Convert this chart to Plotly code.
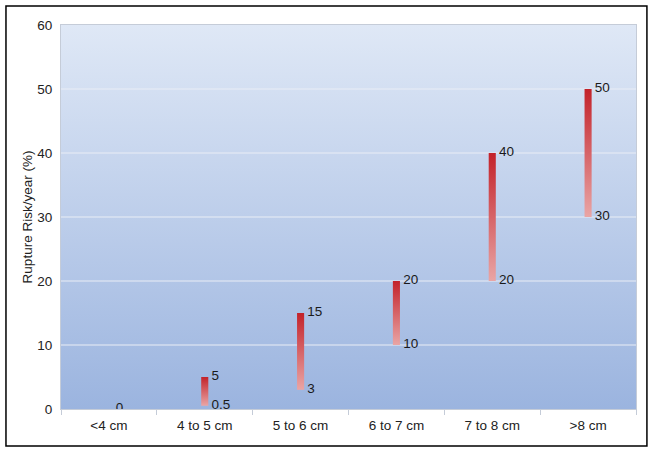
import plotly.graph_objects as go

categories = ['<4 cm', '4 to 5 cm', '5 to 6 cm', '6 to 7 cm', '7 to 8 cm', '>8 cm']
risk_low = [0, 0.5, 3, 10, 20, 30]
risk_high = [0, 5, 15, 20, 40, 50]
y_ticks = [0, 10, 20, 30, 40, 50, 60]

half_w = 0.037
fnt = 'Liberation Sans, Arial, sans-serif'
fs = 13.5

fig = go.Figure()

# gradient background of the plot area
fig.add_trace(go.Scatter(
    x=[-0.5, 5.5, 5.5, -0.5, -0.5],
    y=[y_ticks[0], y_ticks[0], y_ticks[-1], y_ticks[-1], y_ticks[0]],
    mode='lines', line=dict(width=0), fill='toself',
    fillgradient=dict(type='vertical',
                      colorscale=[[0, '#9bb4df'], [1, '#dfe8f6']]),
    hoverinfo='skip', showlegend=False))

# gridlines drawn over the background, under the bars
gx, gy = [], []
for t in y_ticks[1:-1]:
    gx += [-0.5, 5.5, None]
    gy += [t, t, None]
fig.add_trace(go.Scatter(x=gx, y=gy, mode='lines',
                         line=dict(color='#e9eef6', width=1.2),
                         hoverinfo='skip', showlegend=False))

# floating range bars with red gradient
for i, (lo, hi) in enumerate(zip(risk_low, risk_high)):
    if hi == lo:
        continue
    fig.add_trace(go.Scatter(
        x=[i - half_w, i + half_w, i + half_w, i - half_w, i - half_w],
        y=[lo, lo, hi, hi, lo],
        mode='lines', line=dict(width=0), fill='toself',
        fillgradient=dict(type='vertical',
                          colorscale=[[0, '#e9a5a5'], [1, '#c3222a']]),
        hoverinfo='skip', showlegend=False))

# value labels
xs = list(range(len(categories)))
fig.add_trace(go.Scatter(
    x=[x + 0.07 for x in xs], y=risk_high, mode='text',
    text=[str(v) for v in risk_high], textposition='middle right',
    textfont=dict(size=fs, color='#1a1a1a', family=fnt),
    hoverinfo='skip', showlegend=False))
fig.add_trace(go.Scatter(
    x=[x + 0.07 for x in xs[1:]], y=risk_low[1:], mode='text',
    text=[str(v) for v in risk_low[1:]], textposition='middle right',
    textfont=dict(size=fs, color='#1a1a1a', family=fnt),
    hoverinfo='skip', showlegend=False))

fig.update_layout(
    width=654, height=452,
    margin=dict(l=61, r=18, t=25, b=43),
    paper_bgcolor='white', plot_bgcolor='#b8c9e8',
    font=dict(family=fnt, size=fs, color='#222'),
    xaxis=dict(range=[-0.5, 5.5], tickvals=xs, ticktext=categories,
               showgrid=False, zeroline=False, ticks='',
               showline=True, linecolor='#c5ccd8', mirror=True,
               ticklabelstandoff=4,
               minor=dict(tickvals=[x - 0.5 for x in xs] + [5.5],
                          ticks='outside', ticklen=5, tickcolor='#c5ccd8'),
               tickfont=dict(size=fs, color='#222')),
    yaxis=dict(range=[0, 60], tickvals=y_ticks, showgrid=False,
               zeroline=False, ticks='', showline=True,
               linecolor='#c5ccd8', mirror=True, ticklabelstandoff=5,
               title=dict(text='Rupture Risk/year (%)', standoff=1,
                          font=dict(size=fs, color='#222')),
               tickfont=dict(size=fs, color='#222')),
    shapes=[dict(type='rect', xref='paper', yref='paper',
                 x0=-0.0957, x1=1.019, y0=-0.0964, y1=1.0495,
                 line=dict(color='black', width=1.5), layer='above')],
)

fig.write_html('out.html', config={'displayModeBar': False},
               post_script="document.body.style.margin='0';")
